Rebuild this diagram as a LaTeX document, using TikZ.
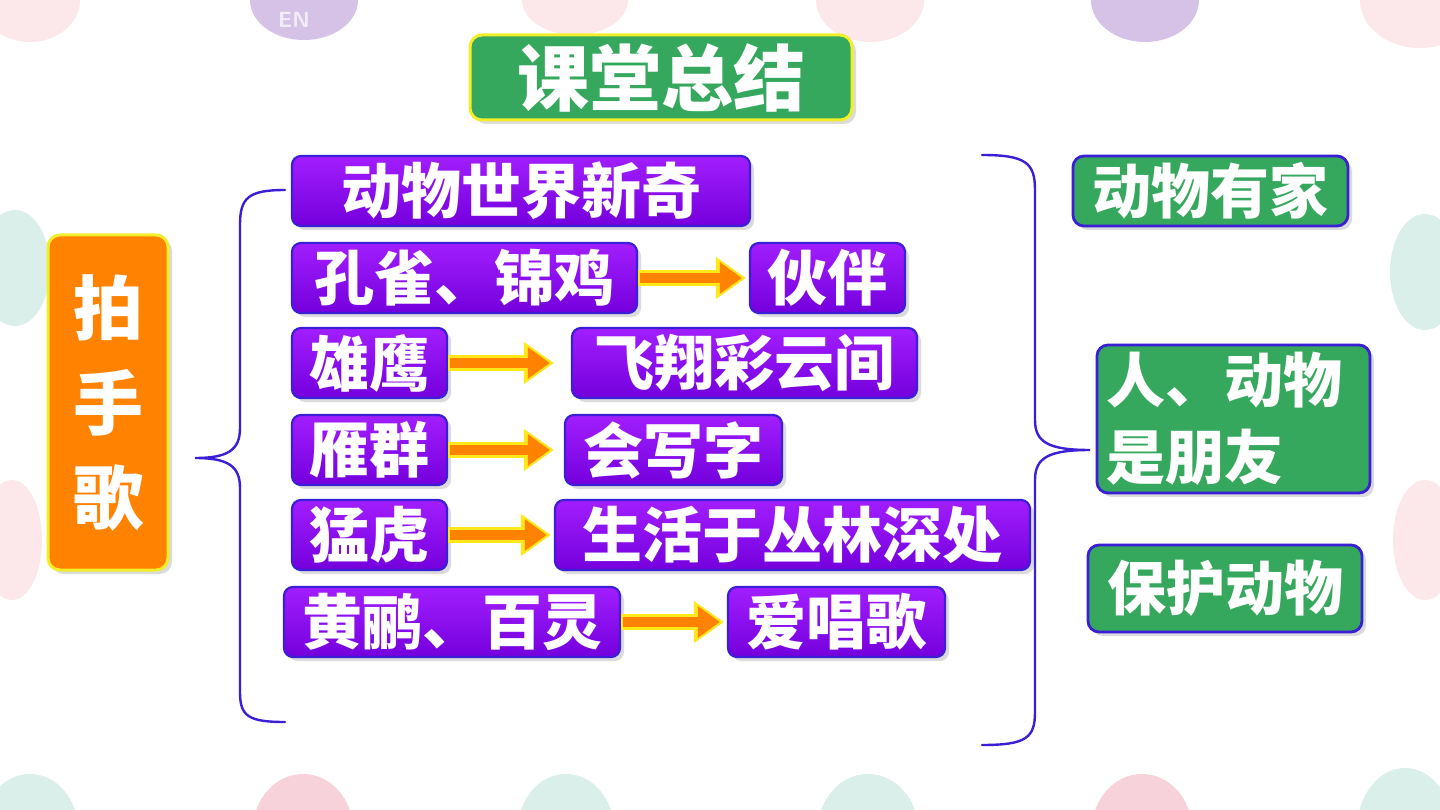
\documentclass[tikz,border=0pt]{standalone}
\usepackage{fontspec}
\newfontfamily\cjk{Noto Sans CJK SC}
\usetikzlibrary{arrows.meta,shadows}
\definecolor{vio}{HTML}{8C00F5}
\definecolor{violight}{HTML}{A21EFF}
\definecolor{viodark}{HTML}{7400DC}
\definecolor{bordblue}{HTML}{3A1FD6}
\definecolor{grn}{HTML}{36A85E}
\definecolor{orng}{HTML}{FF8200}
\definecolor{yel}{HTML}{F2EE2A}
\definecolor{arrowyel}{HTML}{FFE81A}
\definecolor{bgpink}{HTML}{FCE8EA}
\definecolor{bgpink2}{HTML}{F8D2DB}
\definecolor{bgpurple}{HTML}{D5C2E6}
\definecolor{bgteal}{HTML}{DAEEEA}
\tikzset{
  x=1pt,y=1pt,
  shad/.style={drop shadow={opacity=0.28,shadow xshift=4pt,shadow yshift=-4pt}},
  pbox/.style={shad,rounded corners=9pt,draw=bordblue,line width=2.2pt,
    top color=violight,bottom color=viodark,
    minimum height=70pt,inner sep=0pt,text=white,
    font=\cjk\bfseries\fontsize{60}{62}\selectfont},
  gbox/.style={shad,rounded corners=11pt,draw=bordblue,line width=2.8pt,fill=grn,
    inner sep=0pt,text=white,font=\cjk\bfseries\fontsize{59}{77}\selectfont},
  ybox/.style={shad,rounded corners=12pt,draw=yel,line width=3pt,
    inner sep=0pt,text=white},
  brace/.style={draw=bordblue,line width=2.4pt,line cap=round},
  arrback/.style={draw=arrowyel,line width=16pt,-{Triangle[length=30pt,width=40pt]}},
  arrfront/.style={draw=orng,line width=10pt,-{Triangle[length=22pt,width=30pt]}},
}
\begin{document}
\begin{tikzpicture}
\useasboundingbox (0,0) rectangle (1440,-810);
\fill[white] (0,0) rectangle (1440,-810);
% decorative background eggs
\begin{scope}
\clip (0,0) rectangle (1440,-810);
\fill[bgpink] (30,-0) ellipse [x radius=50,y radius=42];
\fill[bgpurple] (304,-0) ellipse [x radius=54,y radius=40];
\node[text=white,opacity=0.7,font=\sffamily\bfseries\fontsize{22}{22}\selectfont] (en) at (294,-20) {EN};
\fill[bgpink] (575,-0) ellipse [x radius=53,y radius=35];
\fill[bgpink] (870,-0) ellipse [x radius=54,y radius=42];
\fill[bgpurple] (1145,-0) ellipse [x radius=54,y radius=42];
\fill[bgpink] (1420,-0) ellipse [x radius=60,y radius=48];
\fill[bgteal] (15,-268) ellipse [x radius=35,y radius=58];
\fill[bgpink] (12,-540) ellipse [x radius=30,y radius=60];
\fill[bgteal] (1425,-272) ellipse [x radius=35,y radius=58];
\fill[bgpink] (1425,-540) ellipse [x radius=32,y radius=60];
\fill[bgteal] (30,-830) ellipse [x radius=48,y radius=56];
\fill[bgpink2] (303,-830) ellipse [x radius=50,y radius=56];
\fill[bgteal] (566,-830) ellipse [x radius=48,y radius=56];
\fill[bgteal] (868,-830) ellipse [x radius=50,y radius=56];
\fill[bgpink2] (1142,-830) ellipse [x radius=50,y radius=56];
\fill[bgteal] (1405,-830) ellipse [x radius=48,y radius=62];
\end{scope}

% title
\node[ybox,fill=grn,minimum width=382pt,minimum height=85pt,
  font=\cjk\bfseries\fontsize{72}{72}\selectfont] (title) at (661,-77.5) {课堂总结};

% left orange box
\node[ybox,fill=orng,minimum width=120pt,minimum height=335pt,align=center,
  font=\cjk\bfseries\fontsize{70}{95}\selectfont] (pai) at (108,-402.5) {拍\\手\\歌};

% purple boxes
\node[pbox,minimum width=458pt] (p1) at (521,-191) {动物世界新奇};
\node[pbox,minimum width=345pt] (p2) at (464.5,-278) {孔雀、锦鸡};
\node[pbox,minimum width=155pt] (p2b) at (827.5,-278) {伙伴};
\node[pbox,minimum width=155pt] (p3) at (369.5,-363) {雄鹰};
\node[pbox,minimum width=345pt] (p3b) at (744.5,-363) {飞翔彩云间};
\node[pbox,minimum width=155pt] (p4) at (369.5,-450) {雁群};
\node[pbox,minimum width=217pt] (p4b) at (673.5,-450) {会写字};
\node[pbox,minimum width=155pt] (p5) at (369.5,-535) {猛虎};
\node[pbox,minimum width=475pt] (p5b) at (792.5,-535) {生活于丛林深处};
\node[pbox,minimum width=336pt] (p6) at (452,-622) {黄鹂、百灵};
\node[pbox,minimum width=217pt] (p6b) at (836.5,-622) {爱唱歌};

% arrows
\foreach \a/\b/\s in {p2/p2b/3pt,p3/p3b/17pt,p4/p4b/10pt,p5/p5b/3pt,p6/p6b/3pt}{
  \draw[arrback,shorten >=\s] (\a.east) -- (\b.west);
  \draw[arrfront,shorten <=2pt,shorten >=\s+4pt] (\a.east) -- (\b.west);
}

% right green boxes
\node[gbox,minimum width=275pt,minimum height=70pt] (g1) at (1210.5,-191) {动物有家};
\node[gbox,minimum width=273pt,minimum height=148pt] (g2) at (1233.5,-419) {};
\node[text=white,font=\cjk\bfseries\fontsize{59}{77}\selectfont,align=left,anchor=west,inner sep=0pt] (g2t) at ([xshift=11pt]g2.west) {人、动物\\是朋友};
\node[gbox,minimum width=274pt,minimum height=87pt] (g3) at (1225,-588.5) {保护动物};

% left brace
\coordinate (lbt) at (285,-190);
\coordinate (lbm) at (195,-458);
\coordinate (lbb) at (285,-722);
\draw[brace] (lbt) .. controls (248,-190) and (240,-198) .. (240,-225)
  -- (240,-428) .. controls (240,-450) and (228,-458) .. (lbm)
  .. controls (228,-458) and (240,-466) .. (240,-488)
  -- (240,-692) .. controls (240,-716) and (248,-722) .. (lbb);

% right brace
\coordinate (rbt) at (982,-155);
\coordinate (rbm) at (1090,-450);
\coordinate (rbb) at (982,-745);
\draw[brace] (rbt) .. controls (1026,-155) and (1035,-163) .. (1035,-190)
  -- (1035,-420) .. controls (1035,-442) and (1048,-450) .. (rbm)
  .. controls (1048,-450) and (1035,-458) .. (1035,-480)
  -- (1035,-712) .. controls (1035,-738) and (1026,-745) .. (rbb);
\end{tikzpicture}
\end{document}
